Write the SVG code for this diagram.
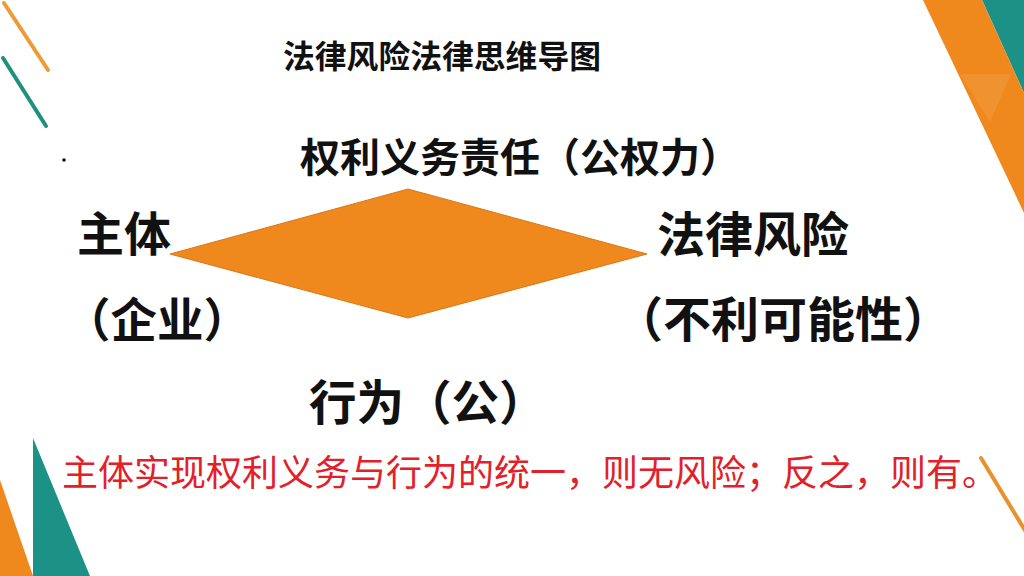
<svg xmlns="http://www.w3.org/2000/svg" width="1024" height="576" viewBox="0 0 1024 576">
<style>
.bk{font-family:"Noto Sans CJK SC","Noto Sans",sans-serif;font-weight:bold;fill:#111111;}
.rd{font-family:"Noto Sans CJK SC","Noto Sans",sans-serif;font-weight:normal;fill:#E3202A;}
.or{fill:#EF891E;}
.tl{fill:#1C9287;}
</style>
<rect x="0" y="0" width="1024" height="576" fill="#FFFFFF"/>
<g id="decor">
<line x1="4" y1="3" x2="48" y2="70" stroke="#EE9A36" stroke-width="4" stroke-linecap="round"/>
<line x1="3" y1="58" x2="46" y2="126" stroke="#1F8F80" stroke-width="4" stroke-linecap="round"/>
<circle cx="64" cy="160" r="1.8" fill="#111111"/>
<polygon class="tl" points="982,0 1024,0 1024,93"/>
<polygon class="or" points="923,0 982,0 1024,93 1024,213"/>
<polygon points="960,74 1011,74 990,122" fill="#FFFFFF" opacity="0.08"/>
<polygon class="or" points="0,480 33,576 0,576"/>
<polygon class="tl" points="33,438 90,576 33,576"/>
<line x1="981" y1="458" x2="1026" y2="532" stroke="#E8922E" stroke-width="4" stroke-linecap="round"/>
</g>
<g id="title">
<text class="bk" x="283" y="68" font-size="31.8">法律风险法律思维导图</text>
</g>
<g id="diamond">
<polygon points="170,254 408,189 647,254 408,318" fill="#EF891E" stroke="#D9781A" stroke-width="1"/>
</g>
<g id="node-top">
<text class="bk" x="300" y="172" font-size="40">权利义务责任（公权力）</text>
</g>
<g id="node-left">
<text class="bk" x="77" y="251" font-size="47">主体</text>
<text class="bk" x="64" y="337" font-size="46.5">（企业）</text>
</g>
<g id="node-right">
<text class="bk" x="657" y="252" font-size="48">法律风险</text>
<text class="bk" x="615" y="337" font-size="48">（不利可能性）</text>
</g>
<g id="node-bottom">
<text class="bk" x="309" y="420" font-size="47.5">行为（公）</text>
</g>
<g id="note">
<text class="rd" x="62" y="486" font-size="36">主体实现权利义务与行为的统一，则无风险；反之，则有。</text>
</g>
</svg>
